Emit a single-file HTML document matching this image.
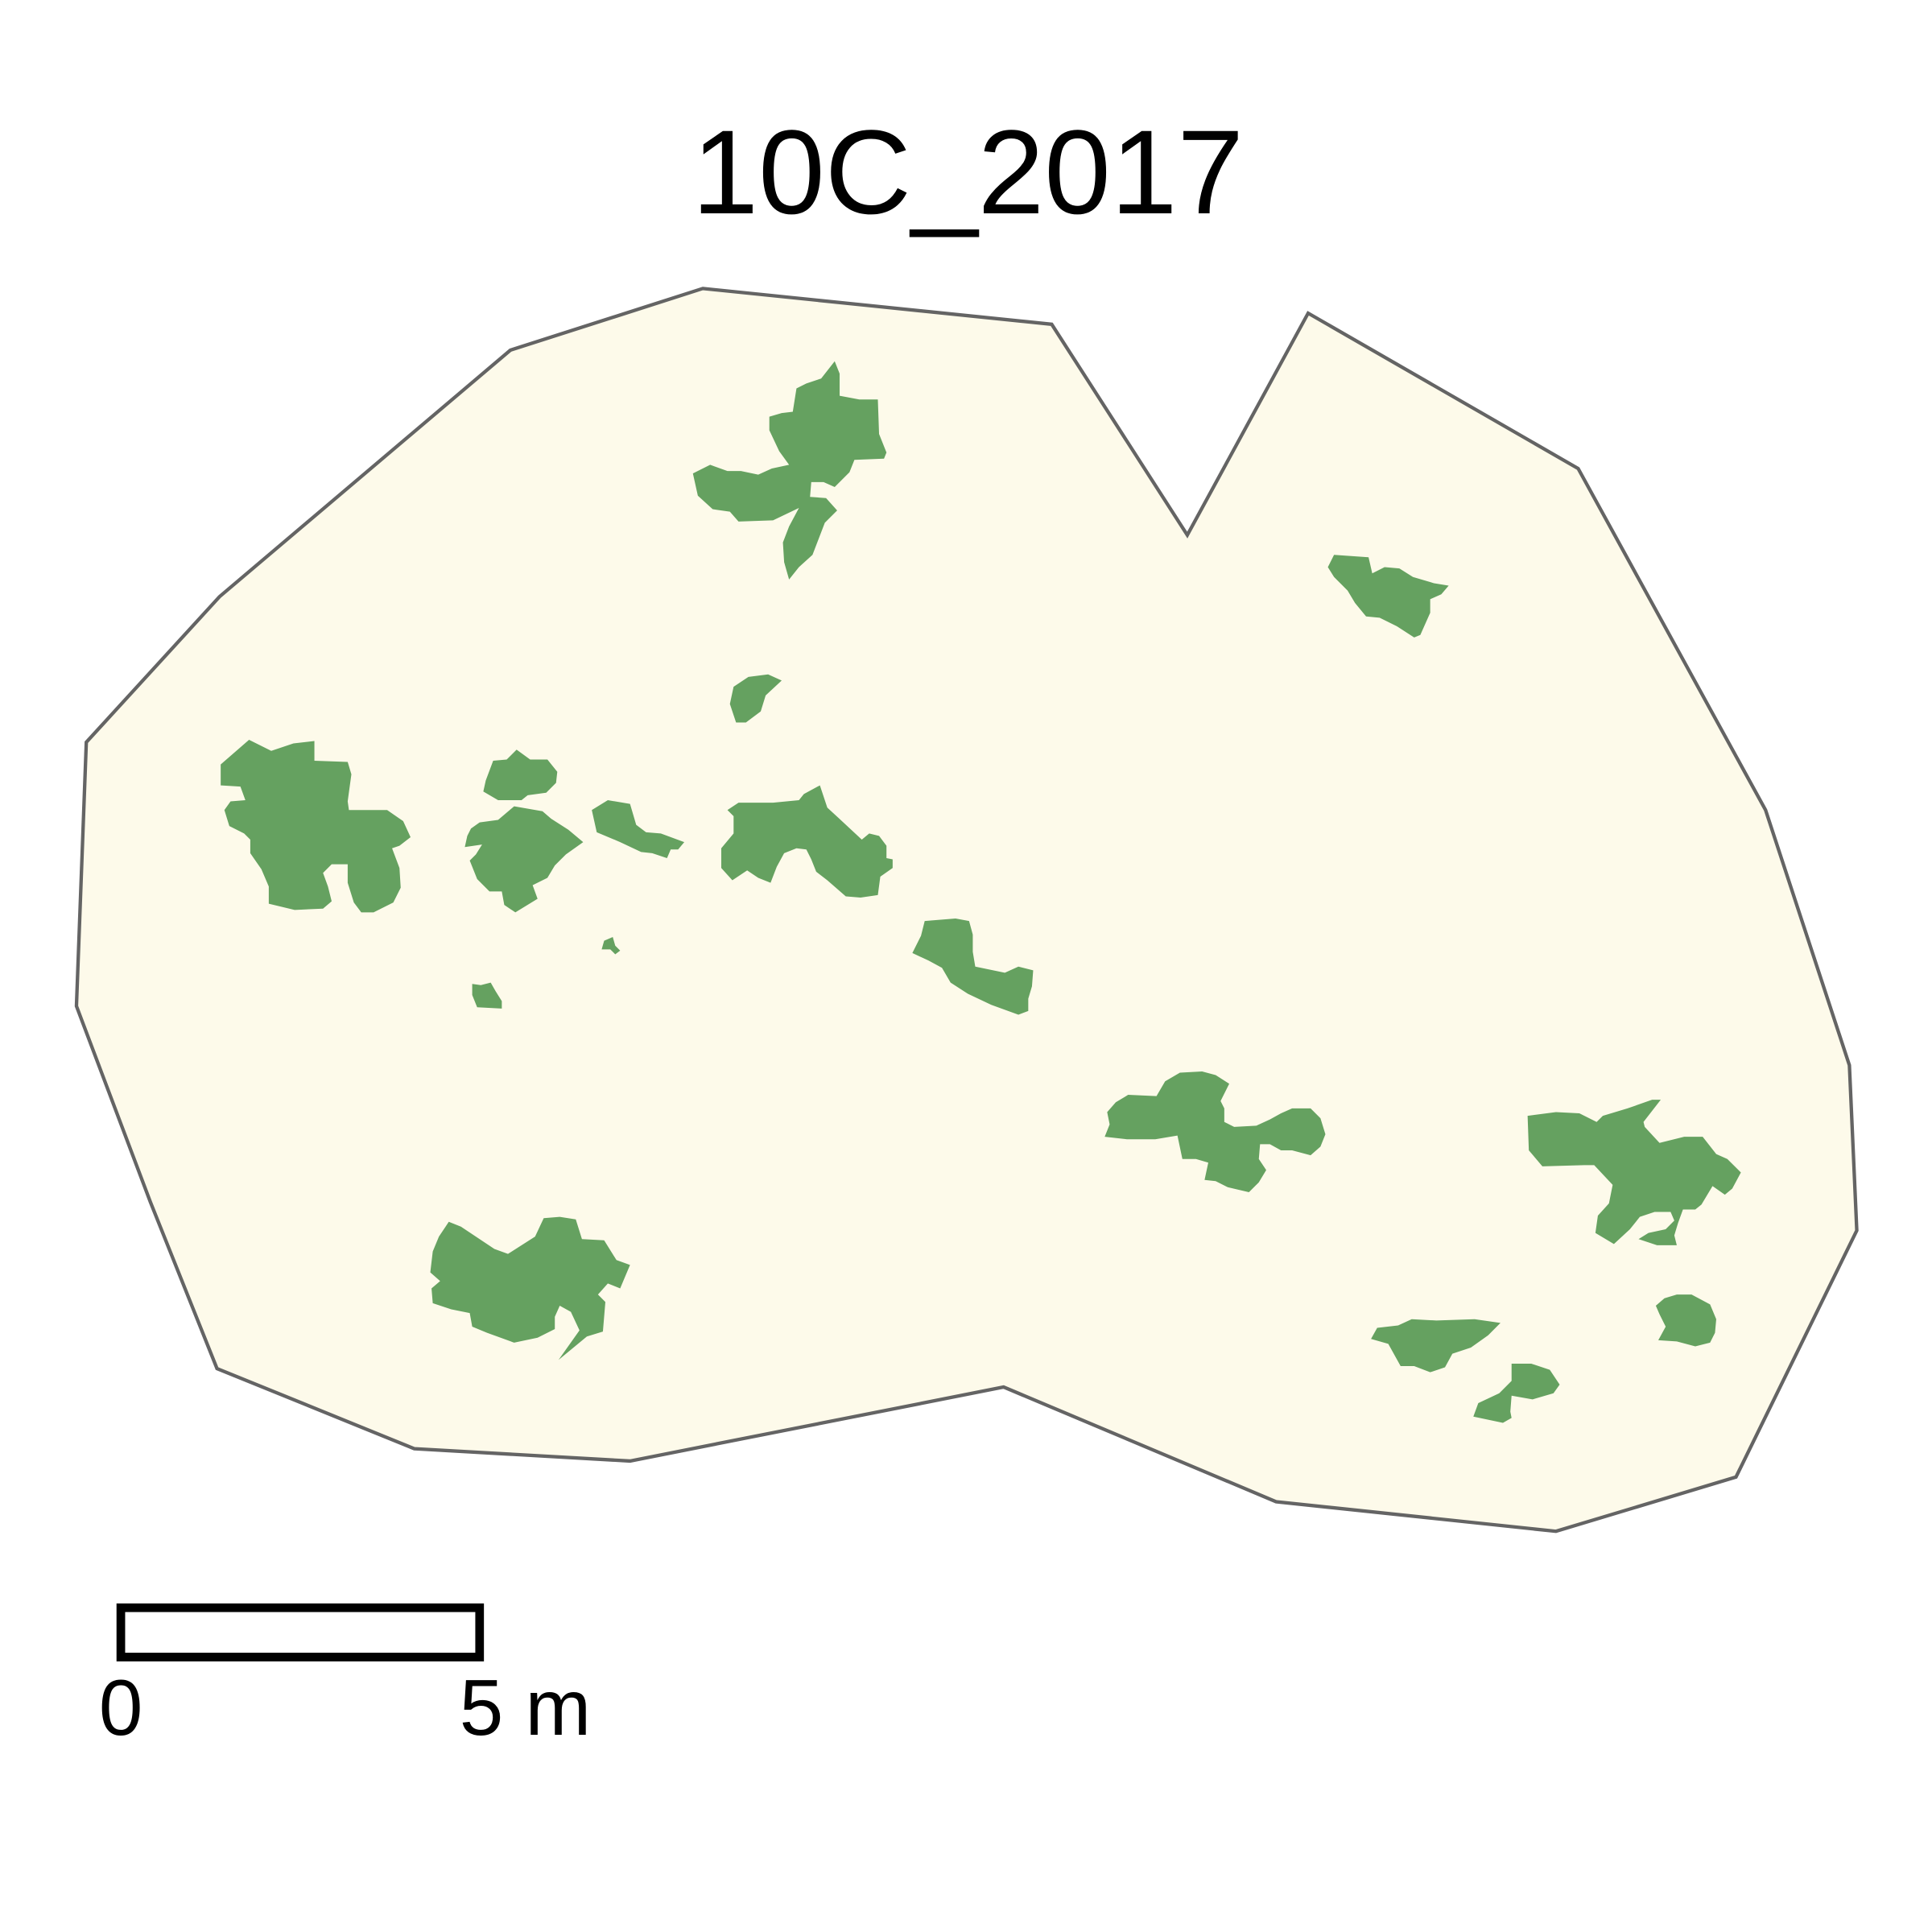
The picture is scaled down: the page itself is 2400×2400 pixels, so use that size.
<!DOCTYPE html>
<html><head><meta charset="utf-8"><style>
html,body{margin:0;padding:0;background:#fff;}
svg{display:block;}
text{font-family:"Liberation Sans",Arial,sans-serif;}
</style></head><body>
<svg id="map" width="2400" height="2400" viewBox="0 0 1567 1567" xmlns="http://www.w3.org/2000/svg">
<rect width="1567" height="1567" fill="#fff"/>
<text x="785" y="173" font-size="97" text-anchor="middle" fill="#000">10C_2017</text>
<g id="layer"></g>
<rect x="98" y="1304" width="291" height="40" fill="none" stroke="#000" stroke-width="7"/>
<text x="98" y="1407" font-size="64" text-anchor="middle">0</text>
<text x="426" y="1407" font-size="64" text-anchor="middle">5 m</text>
</svg>
<script>
const boundary=[[570,234],[853,263],[963,434],[1061,254],[1280,380],[1432,657],[1500,864],[1506,998],[1408,1198],[1262,1242],[1035,1218],[814,1125],[511,1185],[336,1175],[176,1110],[122,975],[62,816],[70,602],[178,484],[414,284]];
const patches=[
[[677,293],[681,303],[681,321],[697,324],[712,324],[713,352],[719,367],[717,372],[693,373],[689,383],[677,395],[668,391],[658,391],[657,403],[670,404],[679,414],[669,424],[659,450],[648,460],[640,470],[636,456],[635,440],[640,427],[648,412],[627,422],[599,423],[592,415],[578,413],[566,402],[562,384],[576,377],[590,382],[601,382],[615,385],[626,380],[640,377],[632,366],[624,349],[624,338],[634,335],[643,334],[646,315],[654,311],[666,307]],
[[1082,450],[1110,452],[1113,465],[1123,460],[1135,461],[1146,468],[1163,473],[1175,475],[1169,482],[1160,486],[1160,497],[1152,515],[1147,517],[1133,508],[1119,501],[1108,500],[1099,489],[1093,479],[1082,468],[1077,460]],
[[607,549],[623,547],[634,552],[621,564],[617,577],[605,586],[597,586],[592,571],[595,557]],
[[202,600],[220,609],[238,603],[255,601],[255,617],[282,618],[285,628],[282,650],[283,657],[314,657],[327,666],[333,679],[324,686],[318,688],[324,704],[325,720],[319,732],[303,740],[293,740],[287,732],[282,716],[282,701],[269,701],[262,708],[266,719],[269,731],[262,737],[239,738],[218,733],[218,719],[212,705],[203,692],[203,681],[198,676],[186,670],[182,657],[187,650],[199,649],[195,638],[179,637],[179,620]],
[[419,608],[430,616],[444,616],[452,626],[451,635],[443,643],[428,645],[423,649],[404,649],[392,642],[394,633],[397,625],[400,617],[411,616]],
[[417,654],[440,658],[447,664],[461,673],[473,683],[459,693],[450,702],[444,712],[432,718],[436,729],[418,740],[409,734],[407,723],[397,723],[387,713],[381,698],[386,693],[391,685],[377,687],[379,678],[382,672],[389,667],[404,665]],
[[493,649],[511,652],[516,669],[524,675],[536,676],[555,683],[550,689],[544,689],[541,696],[529,692],[520,691],[503,683],[484,675],[480,657]],
[[665,637],[671,655],[684,667],[699,681],[705,676],[713,678],[719,686],[719,696],[724,697],[724,704],[714,711],[712,726],[698,728],[686,727],[671,714],[662,707],[658,697],[654,689],[646,688],[636,692],[630,703],[625,716],[615,712],[606,706],[594,714],[585,704],[585,688],[595,676],[595,662],[590,657],[599,651],[627,651],[648,649],[652,644]],
[[490,763],[497,760],[499,767],[503,771],[499,774],[495,770],[488,770]],
[[750,747],[775,745],[786,747],[789,758],[789,772],[791,784],[815,789],[826,784],[838,787],[837,800],[834,810],[834,820],[826,823],[815,819],[804,815],[785,806],[771,797],[764,785],[753,779],[740,773],[747,759]],
[[383,798],[390,799],[398,797],[402,804],[407,812],[407,818],[387,817],[383,807]],
[[957,870],[975,869],[986,872],[997,879],[990,893],[993,899],[993,910],[1001,914],[1019,913],[1030,908],[1039,903],[1048,899],[1063,899],[1071,907],[1075,920],[1071,930],[1063,937],[1048,933],[1039,933],[1030,928],[1022,928],[1021,940],[1027,949],[1021,959],[1013,967],[996,963],[986,958],[977,957],[980,943],[970,940],[959,940],[955,921],[937,924],[914,924],[896,922],[900,912],[898,902],[905,894],[915,888],[938,889],[945,877]],
[[1239,905],[1262,902],[1281,903],[1295,910],[1300,905],[1320,899],[1340,892],[1347,892],[1333,910],[1334,914],[1346,927],[1366,922],[1381,922],[1392,936],[1401,940],[1412,951],[1405,964],[1399,969],[1389,962],[1380,977],[1375,981],[1365,981],[1361,992],[1358,1002],[1360,1010],[1344,1010],[1329,1005],[1337,1000],[1351,997],[1358,990],[1355,983],[1342,983],[1330,987],[1322,997],[1309,1009],[1294,1000],[1296,986],[1305,976],[1308,961],[1293,945],[1285,945],[1251,946],[1240,933]],
[[364,991],[374,995],[389,1005],[401,1013],[412,1017],[434,1003],[441,988],[454,987],[467,989],[472,1005],[490,1006],[500,1022],[511,1026],[503,1045],[493,1041],[485,1050],[491,1056],[489,1080],[476,1084],[453,1103],[470,1079],[463,1064],[454,1059],[450,1068],[450,1078],[436,1085],[417,1089],[395,1081],[383,1076],[381,1065],[366,1062],[351,1057],[350,1045],[357,1039],[349,1032],[351,1015],[356,1003]],
[[1360,1050],[1372,1050],[1387,1058],[1392,1070],[1391,1081],[1387,1089],[1375,1092],[1360,1088],[1345,1087],[1351,1076],[1346,1066],[1343,1059],[1350,1053]],
[[1145,1070],[1165,1071],[1196,1070],[1217,1073],[1207,1083],[1193,1093],[1178,1098],[1172,1109],[1160,1113],[1147,1108],[1136,1108],[1126,1090],[1112,1086],[1117,1077],[1134,1075]],
[[1226,1106],[1242,1106],[1257,1111],[1265,1123],[1260,1130],[1243,1135],[1226,1132],[1225,1145],[1226,1150],[1219,1154],[1195,1149],[1199,1138],[1216,1130],[1226,1120]]
];
const layer=document.getElementById('layer');
const NS='http://www.w3.org/2000/svg';
function pts(a){return a.map(p=>p[0]+','+p[1]).join(' ');}
const b=document.createElementNS(NS,'polygon');
b.setAttribute('points',pts(boundary));
b.setAttribute('fill','#fdfaea');
b.setAttribute('stroke','#646464');
b.setAttribute('stroke-width','2.8');


layer.appendChild(b);
patches.forEach((p,i)=>{
  const e=document.createElementNS(NS,'polygon');
  e.setAttribute('points',pts(p));
  e.setAttribute('fill','#65a160');
  
  
  layer.appendChild(e);
});
</script>
</body></html>
